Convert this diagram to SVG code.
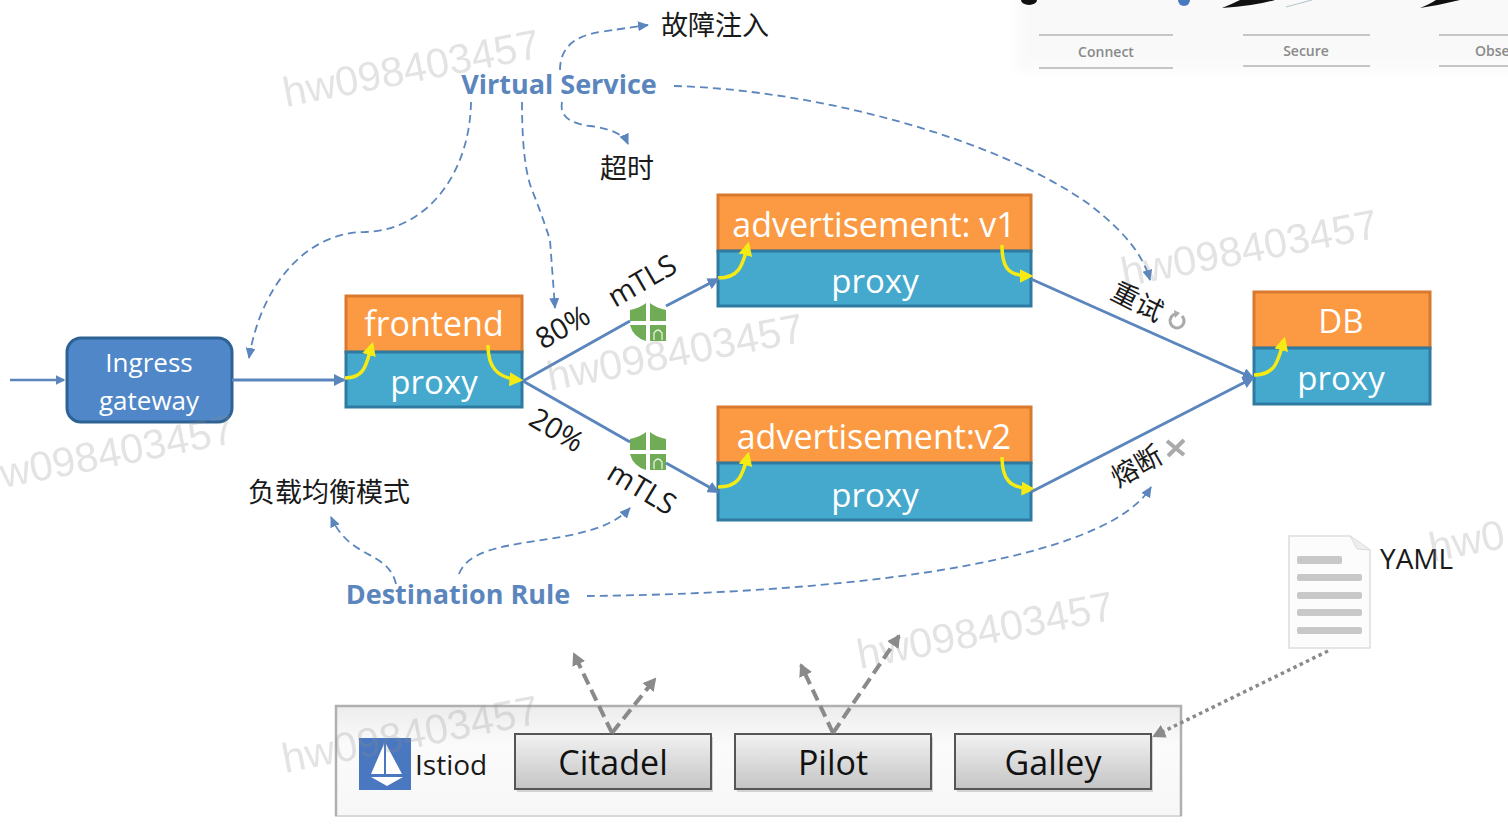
<svg xmlns="http://www.w3.org/2000/svg" width="1508" height="834" viewBox="0 0 1508 834">
<style>
text{font-family:"Open Sans","Noto Sans","Noto Sans CJK SC",sans-serif}
.wm{font-family:"Liberation Sans",sans-serif;font-size:41.5px;fill:#8c8c8c;opacity:.24}
.or{fill:#fb9a43;stroke:#d9782f;stroke-width:3}
.bl{fill:#45a9cd;stroke:#2f7aa0;stroke-width:3}
.w{fill:#fff;font-size:33px;text-anchor:middle}
.w2{fill:#fff;font-size:34px;text-anchor:middle}
.k{fill:#1a1a1a;font-size:27px}
.vs{fill:#5b86bd;font-size:27px;font-weight:700;text-anchor:middle}
.link{fill:none;stroke:#5b86bd;stroke-width:3}
.dash{fill:none;stroke:#5b86bd;stroke-width:1.8;stroke-dasharray:8 5}
.ye{fill:none;stroke:#f5ea14;stroke-width:3.5}
.gd{fill:none;stroke:#8a8a8a;stroke-width:4;stroke-dasharray:12 6}
.btn{fill:url(#btn);stroke:#555;stroke-width:2}
.bt{fill:#111;font-size:34px;text-anchor:middle}
.top{fill:#8a8a8a;font-size:14px;text-anchor:middle}
.tl{stroke:#b5b5b5;stroke-width:1.6}
.doc{fill:#c8c8c8}
</style>
<defs>
<marker id="a" markerWidth="4" markerHeight="4" refX="3.4" refY="2" orient="auto" markerUnits="strokeWidth"><path d="M0 0L4 2L0 4Z" fill="#5b86bd"/></marker>
<marker id="d" markerWidth="12" markerHeight="12" refX="10" refY="5" orient="auto" markerUnits="userSpaceOnUse"><path d="M0 0L11 5L0 10Z" fill="#5b86bd"/></marker>
<marker id="y" markerWidth="4" markerHeight="4" refX="3" refY="2" orient="auto" markerUnits="strokeWidth"><path d="M0 0L4 2L0 4Z" fill="#f5ea14"/></marker>
<marker id="g" markerWidth="16" markerHeight="16" refX="11" refY="7" orient="auto" markerUnits="userSpaceOnUse"><path d="M0 0L13 7L0 14Z" fill="#8a8a8a"/></marker>
<linearGradient id="btn" x1="0" y1="0" x2="0" y2="1"><stop offset="0" stop-color="#f2f2f2"/><stop offset="1" stop-color="#c4c4c4"/></linearGradient>
<linearGradient id="bar" x1="0" y1="0" x2="0" y2="1"><stop offset="0" stop-color="#ececec"/><stop offset=".35" stop-color="#fbfbfb"/><stop offset="1" stop-color="#f7f7f7"/></linearGradient>
<filter id="soft" x="-5%" y="-20%" width="110%" height="140%"><feGaussianBlur stdDeviation="6"/></filter>
<g id="shield"><path d="M-18 -13Q-8 -15 -2 -20L-2 -2L-18 -2ZM2 -20Q8 -15 18 -13L18 -2L2 -2ZM-18 2L-2 2L-2 18Q-15 14-18 2ZM2 2L18 2L18 18L2 18Z" fill="#6fac55"/><path d="M6 17V10Q10 4 14 10V17" fill="none" stroke="#e8f2e2" stroke-width="1.3"/></g>
</defs>
<rect width="1508" height="834" fill="#fff"/>
<g id="top-strip">
<rect x="1016" y="-10" width="510" height="80" fill="#f9f9f9" filter="url(#soft)"/>
<ellipse cx="1029" cy="0" rx="8" ry="5" fill="#111"/>
<circle cx="1184" cy="0" r="6" fill="#4a78c0"/>
<path d="M1222 8Q1255 6 1275 0L1240 0Q1232 4 1222 8Z" fill="#111"/>
<path d="M1420 8Q1440 5 1460 0L1436 0Q1430 4 1420 8Z" fill="#111"/>
<path d="M1286 7L1312 0" stroke="#b8c8cc" stroke-width="1.2"/>
<line class="tl" x1="1039" y1="35" x2="1173" y2="35"/><line class="tl" x1="1039" y1="68" x2="1173" y2="68"/>
<line class="tl" x1="1243" y1="35" x2="1370" y2="35"/><line class="tl" x1="1243" y1="66" x2="1370" y2="66"/>
<line class="tl" x1="1439" y1="35" x2="1508" y2="35"/><line class="tl" x1="1439" y1="66" x2="1508" y2="66"/>
<text class="top" x="1106" y="57" font-weight="600">Connect</text>
<text class="top" x="1306" y="56" font-weight="600">Secure</text>
<text class="top" x="1475" y="56" font-weight="600" style="text-anchor:start">Obse</text>
</g>
<g id="ingress"><rect x="67" y="338" width="165" height="84" rx="14" fill="#4f87c8" stroke="#2e6295" stroke-width="3"/>
<text x="149" y="372" fill="#fff" font-size="26" text-anchor="middle">Ingress</text><text x="149" y="410" fill="#fff" font-size="26" text-anchor="middle">gateway</text></g>
<g id="frontend"><rect class="or" x="346" y="296" width="176" height="56"/><rect class="bl" x="346" y="352" width="176" height="55"/>
<text class="w2" x="434" y="336">frontend</text><text class="w" x="434" y="394">proxy</text>
<path class="ye" d="M345 378C365 378 366 365 372 345" marker-end="url(#y)"/><path class="ye" d="M488 345C488 365 495 378 520 380" marker-end="url(#y)"/></g>
<g id="ad-v1"><rect class="or" x="718" y="195" width="313" height="56"/><rect class="bl" x="718" y="251" width="313" height="55"/>
<text class="w2" x="874" y="237">advertisement: v1</text><text class="w" x="875" y="293">proxy</text>
<path class="ye" d="M718 278C738 278 742 268 748 245" marker-end="url(#y)"/><path class="ye" d="M1002 245C1002 268 1008 276 1030 276" marker-end="url(#y)"/></g>
<g id="ad-v2"><rect class="or" x="718" y="407" width="313" height="56"/><rect class="bl" x="718" y="463" width="313" height="57"/>
<text class="w2" x="874" y="449">advertisement:v2</text><text class="w" x="875" y="507">proxy</text>
<path class="ye" d="M718 487C738 487 742 478 748 455" marker-end="url(#y)"/><path class="ye" d="M1002 457C1002 480 1010 488 1032 489" marker-end="url(#y)"/></g>
<g id="db"><rect class="or" x="1254" y="292" width="176" height="56"/><rect class="bl" x="1254" y="348" width="176" height="56"/>
<text class="w" x="1341" y="333">DB</text><text class="w" x="1341" y="390">proxy</text>
<path class="ye" d="M1254 375C1275 375 1278 362 1284 340" marker-end="url(#y)"/></g>
<g id="shields"><use href="#shield" x="648" y="323"/><use href="#shield" x="648" y="452"/></g>
<g id="yaml"><path d="M1289 536H1350L1370 550V648H1289Z" fill="#fcfcfc" stroke="#ddd" stroke-width="1.5"/><path d="M1350 536L1357 549L1370 550" fill="#eee" stroke="#ddd"/>
<rect class="doc" x="1297" y="556" width="45" height="8" rx="2"/><rect class="doc" x="1297" y="574" width="65" height="7" rx="2"/><rect class="doc" x="1297" y="592" width="65" height="7" rx="2"/><rect class="doc" x="1297" y="609" width="65" height="7" rx="2"/><rect class="doc" x="1297" y="627" width="65" height="7" rx="2"/></g>
<g id="istiod"><rect x="336" y="706" width="845" height="110" fill="url(#bar)" stroke="#d8d8d8" stroke-width="2"/>
<path d="M336 816V706H1181V816" fill="none" stroke="#b0b0b0" stroke-width="2.5"/>
<rect x="359" y="738" width="52" height="52" fill="#4a78c0"/>
<path d="M384 744V774H371ZM386 744L402 774H386Z" fill="#fff"/><path d="M371 777H403L387 786Z" fill="#fff"/>
<text x="415" y="775" fill="#1a1a1a" font-size="28">Istiod</text></g>
<g id="citadel"><rect x="517" y="737" width="196" height="55" fill="#bbb" opacity=".6"/><rect class="btn" x="515" y="734" width="196" height="55"/><text class="bt" x="613" y="775">Citadel</text></g>
<g id="pilot"><rect x="737" y="737" width="196" height="55" fill="#bbb" opacity=".6"/><rect class="btn" x="735" y="734" width="196" height="55"/><text class="bt" x="833" y="775">Pilot</text></g>
<g id="galley"><rect x="957" y="737" width="196" height="55" fill="#bbb" opacity=".6"/><rect class="btn" x="955" y="734" width="196" height="55"/><text class="bt" x="1053" y="775">Galley</text></g>
<g id="connectors">
<path class="link" d="M10 380H64" marker-end="url(#a)" style="stroke-width:2.4"/>
<path class="link" d="M232 380H344" marker-end="url(#a)"/>
<path class="link" d="M523 381L630 321"/>
<path class="link" d="M666 306L718 279" marker-end="url(#a)"/>
<path class="link" d="M523 381L630 442"/>
<path class="link" d="M666 463L718 492" marker-end="url(#a)"/>
<path class="link" d="M1031 279L1253 378" marker-end="url(#a)"/>
<path class="link" d="M1031 492L1253 378" marker-end="url(#a)"/>
<path class="dash" d="M560 70Q560 38 600 32T648 25" marker-end="url(#d)"/>
<path class="dash" d="M562 102Q558 122 590 126T628 144" marker-end="url(#d)"/>
<path class="dash" d="M522 102Q522 165 532 190T550 240L555 308" marker-end="url(#d)"/>
<path class="dash" d="M471 102C470 170 430 230 365 232C310 232 262 280 249 358" marker-end="url(#d)"/>
<path class="dash" d="M674 86C820 90 1000 140 1090 205C1125 232 1143 255 1150 280" marker-end="url(#d)"/>
<path class="dash" d="M396 584C388 550 350 560 331 517" marker-end="url(#d)"/>
<path class="dash" d="M459 574C475 530 590 552 630 508" marker-end="url(#d)"/>
<path class="dash" d="M587 596C800 594 1100 570 1151 487" marker-end="url(#d)"/>
<path class="gd" d="M612 733L574 654" marker-end="url(#g)"/>
<path class="gd" d="M612 733L655 679" marker-end="url(#g)"/>
<path class="gd" d="M833 733L801 665" marker-end="url(#g)"/>
<path class="gd" d="M833 733L899 636" marker-end="url(#g)"/>
<path d="M1328 651L1154 736" fill="none" stroke="#8a8a8a" stroke-width="3.5" stroke-dasharray="3.5 3.5" marker-end="url(#g)"/>
</g>
<g id="labels">
<text class="k" x="661" y="35">故障注入</text>
<text class="k" x="600" y="178">超时</text>
<text class="k" x="248" y="502">负载均衡模式</text>
<text class="vs" x="559" y="94">Virtual Service</text>
<text class="vs" x="458" y="604">Destination Rule</text>
<text class="k" transform="translate(615 308) rotate(-30)" style="font-size:29px">mTLS</text>
<text class="k" transform="translate(543 350) rotate(-30)" style="font-size:29px">80%</text>
<text class="k" transform="translate(527 424) rotate(31)" style="font-size:29px">20%</text>
<text class="k" transform="translate(605 478) rotate(31)" style="font-size:29px">mTLS</text>
<text class="k" transform="translate(1109 298) rotate(27)">重试</text>
<text class="k" transform="translate(1118 488) rotate(-30)">熔断</text>
<text x="1380" y="569" font-size="28" fill="#1a1a1a">YAML</text>
<path d="M1182 316A7 7 0 1 1 1176 314" fill="none" stroke="#aaa" stroke-width="3"/>
<path d="M1174 310L1180 313L1175 318Z" fill="#aaa"/>
<path d="M1167 441L1184 455M1184 440L1168 456" stroke="#aaa" stroke-width="4"/>
</g>
<g id="watermarks">
<text class="wm" transform="translate(286 107) rotate(-11)">hw098403457</text>
<text class="wm" transform="translate(1124 287) rotate(-11)">hw098403457</text>
<text class="wm" transform="translate(550 391) rotate(-11)">hw098403457</text>
<text class="wm" transform="translate(3 488) rotate(-11)">w098403457</text>
<text class="wm" transform="translate(860 669) rotate(-11)">hw098403457</text>
<text class="wm" transform="translate(285 773) rotate(-11)">hw098403457</text>
<text class="wm" transform="translate(1432 562) rotate(-11)">hw0</text>
</g>
</svg>
